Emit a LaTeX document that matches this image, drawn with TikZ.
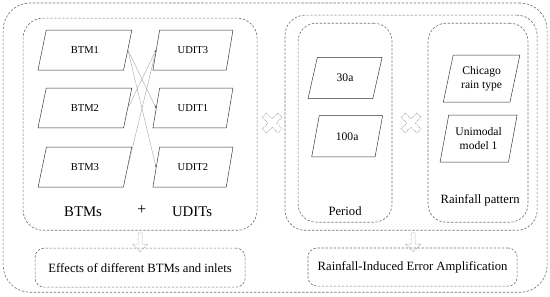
\documentclass[tikz,border=0pt]{standalone}
\usepackage{fontspec}
\setmainfont{Liberation Serif}
\usetikzlibrary{arrows.meta,positioning,shapes.geometric,shapes.arrows}
\definecolor{boxgray}{RGB}{105,115,125}
\definecolor{linkgray}{RGB}{170,170,170}

\begin{document}
\begin{tikzpicture}[
  gbox/.style={draw=boxgray, line width=0.6pt, dash pattern=on 2.2pt off 1.6pt, inner sep=0},
  para/.style={draw=black!80, line width=0.45pt, trapezium, trapezium left angle=75, trapezium right angle=105, trapezium stretches=true, minimum height=1.33cm, align=center, font=\fontsize{10}{12}\selectfont},
  lbl/.style={font=\fontsize{12}{14}\selectfont},
  link/.style={draw=linkgray, line width=0.4pt, -{Stealth[length=2pt,width=1.6pt,color=black!70]}},
  down/.style={draw=boxgray!70, line width=0.5pt, dash pattern=on 1pt off 0.8pt, single arrow, rotate=-90, minimum height=0.63cm, minimum width=0.5cm, single arrow head extend=0.1cm, single arrow tip angle=90, inner sep=0.8pt}
]
  \useasboundingbox (0,0) rectangle (18.33,9.87);

  %% Outer frame
  \node[gbox, rounded corners=0.9cm, minimum width=18.13cm, minimum height=9.64cm] (outer) at (9.17,4.95) {};

  %% Group boxes
  \node[gbox, rounded corners=0.67cm, minimum width=7.8cm, minimum height=7.07cm] (lbox) at (4.67,5.73) {};
  \node[gbox, rounded corners=0.67cm, minimum width=8.4cm, minimum height=7.17cm] (mbox) at (13.7,5.78) {};
  \node[gbox, rounded corners=0.6cm, minimum width=3.13cm, minimum height=6.63cm] (pbox) at (11.5,5.78) {};
  \node[gbox, rounded corners=0.6cm, minimum width=3.33cm, minimum height=6.63cm] (rbox) at (15.93,5.78) {};

  %% Result boxes
  \node[gbox, rounded corners=0.3cm, minimum width=7.0cm, minimum height=1.3cm, lbl] (ebox) at (4.67,0.95) {Effects of different BTMs and inlets};
  \node[gbox, rounded corners=0.3cm, minimum width=6.97cm, minimum height=1.27cm, lbl] (ibox) at (13.75,0.97) {Rainfall-Induced Error Amplification};

  %% BTMs and UDITs
  \node[para, minimum width=3.13cm] (b1) at (2.83,8.2) {BTM1};
  \node[para, minimum width=3.13cm] (b2) at (2.83,6.27) {BTM2};
  \node[para, minimum width=3.13cm] (b3) at (2.83,4.3) {BTM3};
  \node[para, minimum width=2.67cm] (u3) at (6.43,8.2) {UDIT3};
  \node[para, minimum width=2.67cm] (u1) at (6.43,6.27) {UDIT1};
  \node[para, minimum width=2.67cm] (u2) at (6.43,4.3) {UDIT2};
  \draw[link] (b1.east) -- (u1.west);
  \draw[link] (b1.east) -- (u2.west);
  \draw[link] (b2.east) -- (u3.west);
  \draw[link] (b3.east) -- (u3.west);
  \node[font=\fontsize{14}{16}\selectfont] (tb) at (2.77,2.8) {BTMs};
  \node[font=\fontsize{15}{16}\selectfont] (tp) at (4.73,2.88) {+};
  \node[font=\fontsize{14}{16}\selectfont] (tu) at (6.4,2.8) {UDITs};

  %% Period
  \node[para, minimum width=2.47cm, minimum height=1.37cm, font=\fontsize{11}{13}\selectfont] (p30) at (11.5,7.27) {30a};
  \node[para, minimum width=2.37cm, minimum height=1.37cm, font=\fontsize{11}{13}\selectfont] (p100) at (11.57,5.33) {100a};
  \node[lbl] (tper) at (11.5,2.83) {Period};

  %% Rainfall pattern
  \node[para, minimum width=2.57cm, minimum height=1.57cm, font=\fontsize{11}{13}\selectfont] (rc) at (16.05,7.25) {Chicago\\rain type};
  \node[para, minimum width=2.57cm, minimum height=1.57cm, font=\fontsize{11}{13}\selectfont] (ru) at (15.95,5.25) {Unimodal\\model 1};
  \node[lbl] (train) at (16.0,3.2) {Rainfall pattern};

  %% Crosses
  \foreach \cx in {9.07,13.7}
    \draw[boxgray!70, line width=0.5pt, dash pattern=on 1pt off 0.8pt, rotate around={45:(\cx,5.77)}, shift={(\cx,5.77)}]
      (0.1,0.37) -- (0.1,0.1) -- (0.37,0.1) -- (0.37,-0.1) -- (0.1,-0.1) -- (0.1,-0.37)
      -- (-0.1,-0.37) -- (-0.1,-0.1) -- (-0.37,-0.1) -- (-0.37,0.1) -- (-0.1,0.1) -- (-0.1,0.37) -- cycle;

  %% Down arrows
  \node[down] (a1) at (4.67,1.83) {};
  \node[down] (a2) at (13.77,1.83) {};
\end{tikzpicture}
\end{document}
